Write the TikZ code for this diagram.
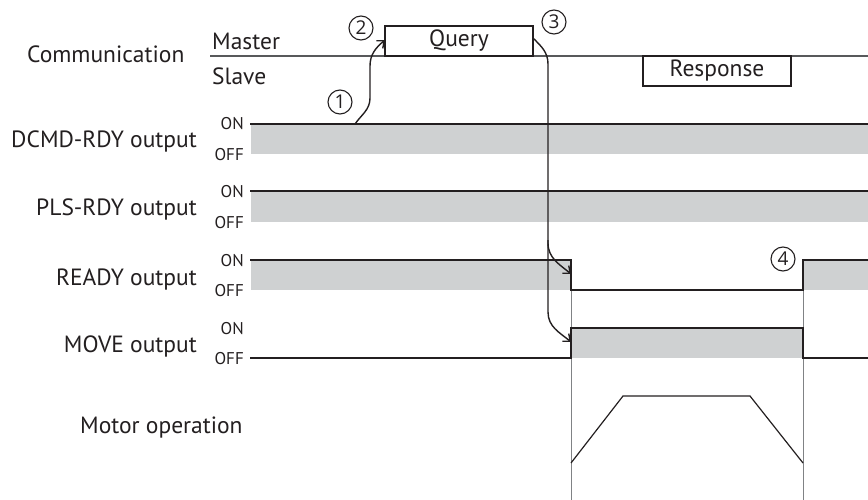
\documentclass[tikz,border=0pt]{standalone}
\usepackage{fontspec}
\setmainfont{PT Sans}
\newfontfamily\digf{Open Sans}
\usetikzlibrary{arrows.meta}
\definecolor{ln}{HTML}{231F20}
\definecolor{fillg}{HTML}{CFD1D2}
\definecolor{guidec}{HTML}{808285}
\definecolor{commc}{HTML}{58595B}
\begin{document}
\begin{tikzpicture}[x=1pt,y=-1pt,
  lbl/.style={inner sep=0pt,font=\fontsize{23.5}{26}\selectfont,text=ln},
  onoff/.style={inner sep=0pt,font=\fontsize{17}{18}\selectfont,text=ln,anchor=base east},
  sig/.style={draw=ln,line width=1.4pt},
  guide/.style={draw=guidec,line width=0.9pt},
  boxn/.style={draw=ln,fill=white,line width=1.2pt,minimum width=148pt,minimum height=30pt,inner sep=0pt,font=\fontsize{23.5}{26}\selectfont,text=ln},
  circ/.style={circle,draw=ln,line width=1.1pt,minimum size=24pt,inner sep=0pt,text=ln,font=\digf\fontsize{19}{20}\selectfont},
  arr/.style={draw=ln,line width=1.4pt,-{Straight Barb[length=6pt,width=10pt]}}]
\useasboundingbox (0,0) rectangle (868,500);

% labels
\node[lbl,anchor=base west] (comm) at (27,63) {Communication};
\node[lbl,anchor=base west] (master) at (212,50) {Master};
\node[lbl,anchor=base west] (slave) at (212,85) {Slave};
\node[lbl,anchor=base east] (ldcmd) at (197,148) {DCMD-RDY output};
\node[lbl,anchor=base east] (lpls) at (197,215) {PLS-RDY output};
\node[lbl,anchor=base east] (lready) at (197,285) {READY output};
\node[lbl,anchor=base east] (lmove) at (197,352) {MOVE output};
\node[lbl,anchor=base west] (lmotor) at (80,433) {Motor operation};

% ON / OFF
\node[onoff] (on1) at (244,130) {ON};
\node[onoff] (off1) at (244,161) {OFF};
\node[onoff] (on2) at (244,197) {ON};
\node[onoff] (off2) at (244,228) {OFF};
\node[onoff] (on3) at (244,266) {ON};
\node[onoff] (off3) at (244,296) {OFF};
\node[onoff] (on4) at (244,334) {ON};
\node[onoff] (off4) at (244,364) {OFF};

% fills
\fill[fillg] (251,124) rectangle (868,154);
\fill[fillg] (251,191) rectangle (868,222);
\fill[fillg] (251,260) rectangle (571,290);
\fill[fillg] (803,260) rectangle (868,290);
\fill[fillg] (571,328) rectangle (803,358);

% guides
\draw[guide] (571,290) -- (571,500);
\draw[guide] (803,290) -- (803,500);

% communication line and boxes
\draw[draw=commc,line width=1.3pt] (210,56) -- (868,56);
\node[boxn] (query) at (459,41) {Query};
\node[boxn] (resp) at (717,71) {Response};

% signals
\draw[sig] (250,124) -- (868,124);
\draw[sig] (250,191) -- (868,191);
\draw[sig] (250,260) -- (571,260) -- (571,290) -- (803,290) -- (803,260) -- (868,260);
\draw[sig] (250,358) -- (571,358) -- (571,328) -- (803,328) -- (803,358) -- (868,358);

% motor
\draw[sig,line width=1.2pt,line join=miter] (571,463) -- (623,396) -- (750,396) -- (803,463);

% coordinates
\coordinate (a1) at (355,124);
\coordinate (qin) at (385,40);
\coordinate (qout) at (533,38);
\coordinate (rfall) at (571,274);
\coordinate (mrise) at (571,342);

% arrows
\draw[arr] (a1) to[out=55,in=-90] (370,98) -- (370,66) to[out=90,in=220] (qin);
\draw[arr] (qout) to[out=-45,in=90] (548,64) -- (548,243) to[out=-90,in=140] (rfall);
\draw[arr] (548,240) -- (548,312) to[out=-90,in=140] (mrise);

% numbers
\node[circ] (n1) at (340,102) {1};
\node[circ] (n2) at (361,28) {2};
\node[circ] (n3) at (554,22) {3};
\node[circ] (n4) at (783,259) {4};
\end{tikzpicture}
\end{document}
